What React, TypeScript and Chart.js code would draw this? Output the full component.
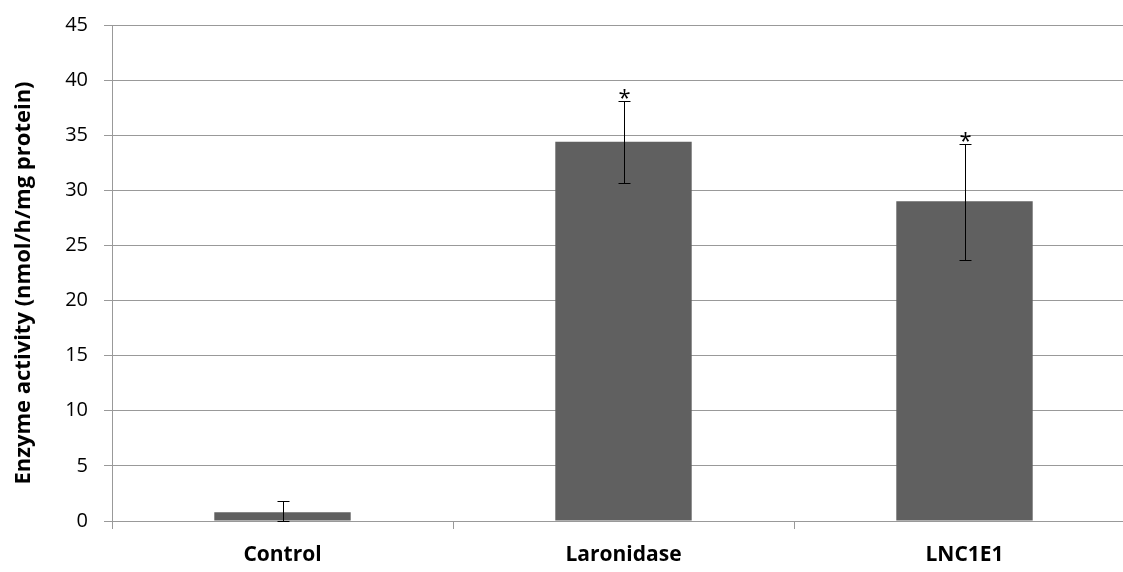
import React, { useEffect, useRef } from "react";
import { Chart, registerables } from "chart.js";

Chart.register(...registerables);

const categories = ["Control", "Laronidase", "LNC1E1"];
const means = [0.8, 34.4, 29.0];
const errUpper = [1.8, 38.1, 34.2];
const errLower = [0.0, 30.7, 23.7];
const significance = ["", "*", "*"];
const yTicks = [0, 5, 10, 15, 20, 25, 30, 35, 40, 45];
const yTitle = "Enzyme activity (nmol/h/mg protein)";

const FONT = "'Open Sans', 'Noto Sans', sans-serif";

const errorBarPlugin = {
  id: "errorBars",
  afterDatasetsDraw(chart: any) {
    const ctx = chart.ctx;
    const meta = chart.getDatasetMeta(0);
    const y = chart.scales.y;
    ctx.save();
    ctx.strokeStyle = "#000";
    ctx.lineWidth = 1;
    meta.data.forEach((bar: any, i: number) => {
      const x = Math.round(bar.x) + 0.5;
      const yt = Math.round(y.getPixelForValue(errUpper[i])) + 0.5;
      const yb = Math.round(y.getPixelForValue(errLower[i])) + 0.5;
      ctx.beginPath();
      ctx.moveTo(x, yt);
      ctx.lineTo(x, yb);
      ctx.moveTo(x - 6, yt);
      ctx.lineTo(x + 6, yt);
      ctx.moveTo(x - 6, yb);
      ctx.lineTo(x + 6, yb);
      ctx.stroke();
      if (significance[i]) {
        ctx.fillStyle = "#000";
        ctx.font = `22px ${FONT}`;
        ctx.textAlign = "center";
        ctx.textBaseline = "bottom";
        ctx.fillText(significance[i], x, yt + 8);
      }
    });
    ctx.restore();
  },
};

const yTitlePlugin = {
  id: "yTitle",
  afterDraw(chart: any) {
    const ctx = chart.ctx;
    const area = chart.chartArea;
    ctx.save();
    ctx.translate(24, (area.top + area.bottom) / 2 + 10);
    ctx.rotate(-Math.PI / 2);
    ctx.fillStyle = "#000";
    ctx.font = `bold 22px ${FONT}`;
    ctx.textAlign = "center";
    ctx.textBaseline = "middle";
    ctx.fillText(yTitle, 0, 0);
    ctx.restore();
  },
};

export default function App() {
  const ref = useRef<HTMLCanvasElement>(null);
  useEffect(() => {
    if (!ref.current) return;
    const chart = new Chart(ref.current, {
      type: "bar",
      data: {
        labels: categories,
        datasets: [
          {
            data: means,
            backgroundColor: "#606060",
            borderWidth: 0,
            barPercentage: 0.4,
            categoryPercentage: 1,
          },
        ],
      },
      options: {
        animation: false,
        responsive: false,
        maintainAspectRatio: false,
        layout: { padding: { top: 25, right: 0, left: 0, bottom: 0 } },
        plugins: { legend: { display: false }, tooltip: { enabled: false } },
        scales: {
          x: {
            grid: {
              display: true,
              drawOnChartArea: false,
              drawTicks: true,
              tickLength: 8,
              color: "#999",
              offset: true,
            },
            border: { display: true, color: "#999" },
            ticks: {
              font: { family: FONT, size: 21, weight: "bold" },
              color: "#000",
              padding: 13,
            },
            afterFit(scale: any) {
              scale.height = 51;
              scale.paddingLeft = 0;
              scale.paddingRight = 0;
            },
          },
          y: {
            min: 0,
            max: 45,
            afterBuildTicks(scale: any) {
              scale.ticks = yTicks.map((v) => ({ value: v }));
            },
            grid: { color: "#999", tickLength: 8 },
            border: { display: true, color: "#999" },
            ticks: {
              font: { family: FONT, size: 20 },
              color: "#000",
              padding: 16,
            },
            afterFit(scale: any) {
              scale.width = 112;
              scale.paddingTop = 0;
              scale.paddingBottom = 0;
            },
          },
        },
      },
      plugins: [errorBarPlugin, yTitlePlugin],
    });
    return () => chart.destroy();
  }, []);
  return (
    <div
      style={{
        position: "fixed",
        left: 0,
        top: 0,
        width: 1123,
        height: 572,
        overflow: "hidden",
        background: "#fff",
      }}
    >
      <canvas ref={ref} width={1135} height={572} style={{ display: "block" }} />
    </div>
  );
}
